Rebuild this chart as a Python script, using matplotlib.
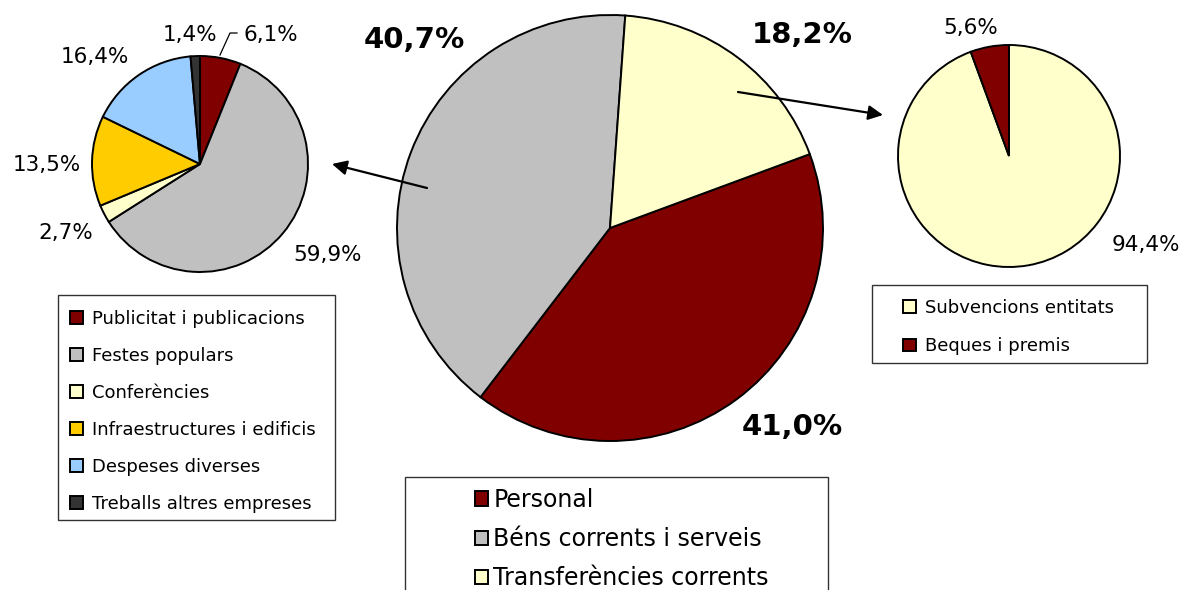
import matplotlib.pyplot as plt
from matplotlib.patches import Rectangle

# main pie
main_labels = ["Personal", "Béns corrents i serveis", "Transferències corrents"]
main_vals = [41.0, 40.7, 18.2]
main_colors = ["#800000", "#C0C0C0", "#FFFFCC"]

# left pie (Béns corrents i serveis breakdown)
left_labels = ["Publicitat i publicacions", "Festes populars", "Conferències",
               "Infraestructures i edificis", "Despeses diverses", "Treballs altres empreses"]
left_vals = [6.1, 59.9, 2.7, 13.5, 16.4, 1.4]
left_colors = ["#800000", "#C0C0C0", "#FFFFCC", "#FFCC00", "#99CCFF", "#333333"]

# right pie (Transferències breakdown)
right_labels = ["Subvencions entitats", "Beques i premis"]
right_vals = [94.4, 5.6]
right_colors = ["#FFFFCC", "#800000"]

H = 590


def py(y):
    return H - y


def pct(v):
    return f"{v:.1f}".replace(".", ",") + "%"


plt.rcParams['font.family'] = ['DejaVu Sans']
fig = plt.figure(figsize=(11.84, 5.90), dpi=100)
ax = fig.add_axes([0, 0, 1, 1])

wp = dict(edgecolor="black", linewidth=1.4)
w_main, _ = ax.pie(main_vals, colors=main_colors, startangle=20.3, counterclock=False,
                   center=(610, py(228)), radius=213, wedgeprops=wp)
w_left, _ = ax.pie(left_vals, colors=left_colors, startangle=90, counterclock=False,
                   center=(200, py(164)), radius=108, wedgeprops=wp)
w_right, _ = ax.pie(right_vals, colors=right_colors, startangle=90, counterclock=False,
                    center=(1009, py(156)), radius=111, wedgeprops=wp)

ax.set_xlim(0, 1184)
ax.set_ylim(0, H)
ax.set_aspect("equal")
ax.axis("off")

# percentage labels (pixel positions)
main_pos = [(792, 427), (414, 40), (802, 35)]
for v, (x, y) in zip(main_vals, main_pos):
    ax.text(x, py(y), pct(v), ha="center", va="center", fontsize=21, fontweight="bold")

left_pos = [(271, 35), (328, 255), (66, 233), (47, 165), (95, 57), (190, 35)]
for v, (x, y) in zip(left_vals, left_pos):
    ax.text(x, py(y), pct(v), ha="center", va="center", fontsize=15.5)
ax.plot([220, 230, 237], [py(55), py(33), py(33)], color="black", lw=0.9)

right_pos = [(1146, 245), (971, 28)]
for v, (x, y) in zip(right_vals, right_pos):
    ax.text(x, py(y), pct(v), ha="center", va="center", fontsize=15.5)

# arrows
arr = dict(arrowstyle="-|>", color="black", lw=1.6, mutation_scale=22, shrinkA=0, shrinkB=0)
ax.annotate("", xy=(332, py(164)), xytext=(427, py(188)), arrowprops=arr)
ax.annotate("", xy=(883, py(115)), xytext=(738, py(92)), arrowprops=arr)

# legend frames
for (x0, y0, x1, y1) in [(58, 295, 335, 520), (872, 285, 1147, 363), (405, 477, 828, 600)]:
    ax.add_patch(Rectangle((x0, py(y1)), x1 - x0, y1 - y0, facecolor="none",
                           edgecolor="#333333", lw=1.0, clip_on=False))

leg_kw = dict(loc="upper left", bbox_transform=ax.transData, frameon=False,
              borderpad=0, borderaxespad=0)
leg1 = ax.legend(w_left, left_labels, bbox_to_anchor=(70, py(310)), fontsize=13,
                 handlelength=0.7, handleheight=0.7, handletextpad=0.5,
                 labelspacing=1.05, **leg_kw)
ax.add_artist(leg1)
leg2 = ax.legend(w_right, right_labels, bbox_to_anchor=(903, py(299)), fontsize=13,
                 handlelength=0.7, handleheight=0.7, handletextpad=0.5,
                 labelspacing=1.12, **leg_kw)
ax.add_artist(leg2)
leg3 = ax.legend(w_main, main_labels, bbox_to_anchor=(475, py(488)), fontsize=17,
                 handlelength=0.57, handleheight=0.57, handletextpad=0.2,
                 labelspacing=0.64, **leg_kw)

fig.savefig("out.png", dpi=100)
